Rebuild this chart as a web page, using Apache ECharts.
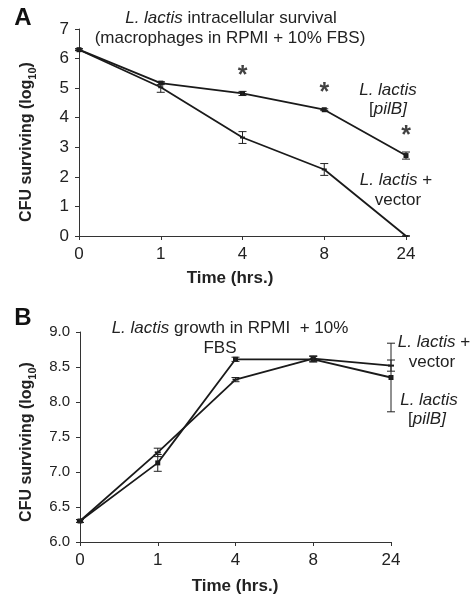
<!DOCTYPE html>
<html><head><meta charset="utf-8">
<script src="https://cdn.jsdelivr.net/npm/echarts@6/dist/echarts.min.js"></script>
<style>html,body{margin:0;padding:0;background:#fff}#c{width:472px;height:601px}</style>
</head><body><div id="c"></div>
<script>
// ---- data ----
const timeCats = ['0', '1', '4', '8', '24'];
// Panel A: intracellular survival
const aPilB = [6.3, 5.17, 4.82, 4.27, 2.72];
const aPilBErr = [0.03, 0.05, 0.07, 0.03, 0.12];
const aVector = [6.3, 5.03, 3.33, 2.25, 0.0];
const aVectorErr = [0.03, 0.17, 0.2, 0.2, 0.0];
const aStars = [[2, 5.57], [3, 5.0], [4, 3.55]];
// Panel B: growth in RPMI
const bPilB = [6.3, 7.13, 8.61, 8.61, 8.35];
const bPilBErr = [0.02, 0.12, 0.03, 0.04, 0.49];
const bVector = [6.3, 7.28, 8.32, 8.62, 8.52];
const bVectorErr = [0.02, 0.06, 0.03, 0.04, 0.08];

const FONT = 'Liberation Sans, Arial, sans-serif';
const FS = 17;
const chart = echarts.init(document.getElementById('c'));

function errSeries(vals, errs, xi, yi) {
  return {
    type: 'custom', xAxisIndex: xi, yAxisIndex: yi, z: 5,
    data: vals.map((v, i) => [i, v, errs[i]]),
    renderItem(params, api) {
      const x = api.value(0), v = api.value(1), e = api.value(2);
      const hi = api.coord([x, v + e]), lo = api.coord([x, v - e]);
      const w = 4, st = {stroke: '#222', lineWidth: 1};
      return {type: 'group', children: [
        {type: 'line', shape: {x1: hi[0], y1: hi[1], x2: lo[0], y2: lo[1]}, style: st},
        {type: 'line', shape: {x1: hi[0] - w, y1: hi[1], x2: hi[0] + w, y2: hi[1]}, style: st},
        {type: 'line', shape: {x1: lo[0] - w, y1: lo[1], x2: lo[0] + w, y2: lo[1]}, style: st}
      ]};
    }
  };
}
function lineSeries(vals, xi, yi, sym, size) {
  return {type: 'line', xAxisIndex: xi, yAxisIndex: yi, data: vals, z: 4,
    symbol: sym, symbolSize: size, showSymbol: true,
    lineStyle: {color: '#1a1a1a', width: 1.8}, itemStyle: {color: '#1a1a1a'},
    animation: false};
}
const axisCommonX = {
  type: 'category', data: timeCats, boundaryGap: false,
  axisLine: {lineStyle: {color: '#333', width: 1}},
  axisTick: {show: true, alignWithLabel: true, length: 4, lineStyle: {color: '#333'}},
  axisLabel: {color: '#222', fontFamily: FONT, fontSize: FS, margin: 10},
  splitLine: {show: false}
};
const rich = {
  i: {fontStyle: 'italic', fontFamily: FONT, fontSize: FS, fill: '#222'},
  n: {fontFamily: FONT, fontSize: FS, fill: '#222'}
};
function txt(x, y, text, opts) {
  return Object.assign({type: 'text', x: x, y: y, style: Object.assign({
    text: text, fontFamily: FONT, fontSize: FS, fill: '#222', align: 'center', verticalAlign: 'middle', rich: rich
  }, opts || {})});
}
function ylab(x, y) {
  return {type: 'text', x: x, y: y, rotation: Math.PI / 2, style: {
    text: '{b|CFU surviving (log}{s|10}{b|)}', align: 'center', verticalAlign: 'middle',
    rich: {
      b: {fontFamily: FONT, fontSize: 16, fontWeight: 'bold', fill: '#222', lineHeight: 22, verticalAlign: 'middle'},
      s: {fontFamily: FONT, fontSize: 11, fontWeight: 'bold', fill: '#222', lineHeight: 22, verticalAlign: 'bottom', padding: [6, 0, 0, 0]}
    }
  }};
}

chart.setOption({
  animation: false,
  backgroundColor: '#fff',
  grid: [
    {left: 79, right: 66, top: 29, height: 207},
    {left: 80, right: 81, top: 332, height: 210}
  ],
  xAxis: [
    Object.assign({gridIndex: 0}, axisCommonX),
    Object.assign({gridIndex: 1}, axisCommonX)
  ],
  yAxis: [
    {type: 'value', gridIndex: 0, min: 0, max: 7, interval: 1,
     axisLine: {show: true, lineStyle: {color: '#333'}},
     axisTick: {show: true, length: 4, lineStyle: {color: '#333'}},
     axisLabel: {color: '#222', fontFamily: FONT, fontSize: FS, margin: 10},
     splitLine: {show: false}},
    {type: 'value', gridIndex: 1, min: 6, max: 9, interval: 0.5,
     axisLine: {show: true, lineStyle: {color: '#333'}},
     axisTick: {show: true, length: 4, lineStyle: {color: '#333'}},
     axisLabel: {color: '#222', fontFamily: FONT, fontSize: 15, margin: 10,
       formatter: v => v.toFixed(1)},
     splitLine: {show: false}}
  ],
  series: [
    lineSeries(aVector, 0, 0, 'rect', [5, 2]),
    lineSeries(aPilB, 0, 0, 'rect', 5),
    errSeries(aVector, aVectorErr, 0, 0),
    errSeries(aPilB, aPilBErr, 0, 0),
    {type: 'scatter', xAxisIndex: 0, yAxisIndex: 0, data: aStars, symbolSize: 2,
     itemStyle: {color: 'rgba(0,0,0,0)'},
     label: {show: true, position: 'inside', formatter: '*', fontSize: 25, fontWeight: 'bold',
       fontFamily: FONT, color: '#111', offset: [0, 5]}},
    lineSeries(bVector, 1, 1, 'rect', [6, 2]),
    lineSeries(bPilB, 1, 1, 'rect', 5),
    errSeries(bVector, bVectorErr, 1, 1),
    errSeries(bPilB, bPilBErr, 1, 1)
  ],
  graphic: [
    txt(23, 18, 'A', {fontSize: 24, fontWeight: 'bold', fill: '#111'}),
    txt(23, 318, 'B', {fontSize: 24, fontWeight: 'bold', fill: '#111'}),
    txt(231, 18, '{i|L. lactis}{n| intracellular survival}'),
    txt(230, 38, '(macrophages in RPMI + 10% FBS)'),
    txt(388, 90, '{i|L. lactis}'),
    txt(388, 109, '{n|[}{i|pilB]}'),
    txt(396, 180, '{i|L. lactis}{n| +}'),
    txt(398, 200, 'vector'),
    txt(230, 278, 'Time (hrs.)', {fontWeight: 'bold'}),
    ylab(27, 142),
    txt(230, 328, '{i|L. lactis}{n| growth in RPMI  + 10%}'),
    txt(220, 348, 'FBS'),
    txt(434, 342, '{i|L. lactis}{n| +}'),
    txt(432, 362, 'vector'),
    txt(429, 400, '{i|L. lactis}'),
    txt(427, 419, '{n|[}{i|pilB]}'),
    txt(235, 586, 'Time (hrs.)', {fontWeight: 'bold'}),
    ylab(27, 442)
  ]
});
</script></body></html>
